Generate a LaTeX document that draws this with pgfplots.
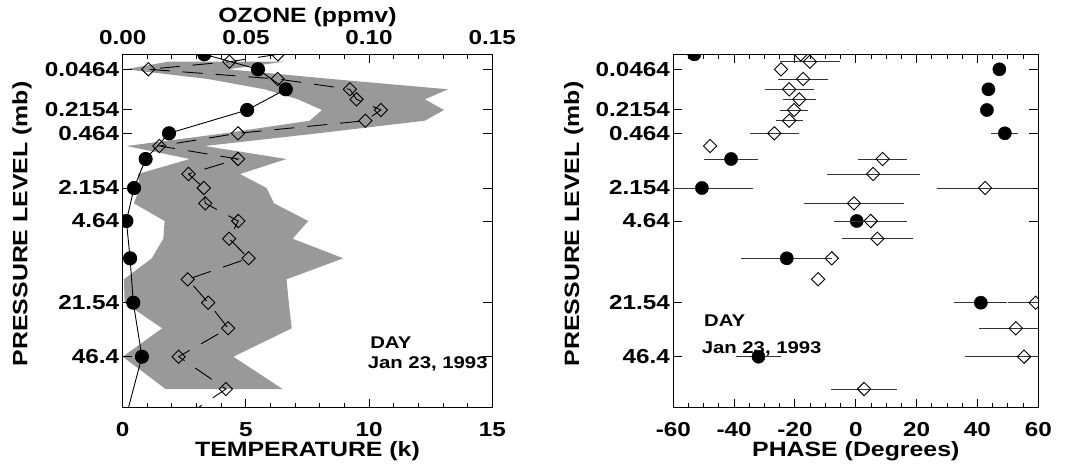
\documentclass[border=0pt]{standalone}
\usepackage{fontspec}
\setmainfont{Liberation Sans}[FakeStretch=1.2]
\usepackage{pgfplots}
\pgfplotsset{compat=1.18}
\usepackage{pgfplotstable}
\definecolor{band}{gray}{0.6}

% y values are the vertical positions of the UARS pressure levels on the chart
% (0.0215,0.0316,0.0464,0.068,0.1,...,46.4,68.1,100 mb)
\pgfplotstableread{
t y
3.31 54.3
5.49 69.3
6.62 89.3
5.05 110
1.88 133.3
0.93 159
0.46 188
0.15 221
0.30 258.3
0.43 302.7
0.78 356.7
0.08 422
}\tempamp

\pgfplotstableread{
o y
0.0630 54.3
0.0433 61.7
0.0104 69.3
0.0629 79
0.0922 89.3
0.0949 99.3
0.1048 110
0.0985 120.7
0.0468 133.3
0.0149 146
0.0468 159
0.0267 174
0.0329 188
0.0335 203.3
0.0469 221
0.0432 238.7
0.0511 258.3
0.0264 279.3
0.0347 302.7
0.0428 328.3
0.0227 356.7
0.0419 389
0.0220 422
}\ozamp

\pgfplotstableread{
o y
0.0184 61.7
0.0657 61.7
0.0427 69.3
0.0847 79
0.1320 89.3
0.1226 99.3
0.1304 110
0.1226 120.7
0.0793 133.3
0.0333 146
0.0665 159
0.0476 174
0.0584 188
0.0614 203.3
0.0753 221
0.0690 238.7
0.0895 258.3
0.0665 279.3
0.0674 302.7
0.0686 328.3
0.0449 356.7
0.0649 389
0.0174 389
0.0000 356.7
0.0160 328.3
0.0008 302.7
0.0005 279.3
0.0118 258.3
0.0165 238.7
0.0170 221
0.0045 203.3
0.0070 188
0.0062 174
0.0272 159
0.0015 146
0.0414 133.3
0.0759 120.7
0.0809 110
0.0711 99.3
0.0576 89.3
0.0346 79
0.0011 69.3
}\ozband

\pgfplotstableread{
p y e
-53.1 54.3 0
47.2 69.3 0
43.6 89.3 0
43.1 110 0
49.0 133.3 4.4
-41.0 159 8.8
-50.6 188 16.9
0.3 221 6
-22.7 258.3 15
41.1 302.7 8.7
-32.0 356.7 7.4
}\phcirc

\pgfplotstableread{
p y e
-18.1 54.3 0
-15.1 61.7 9.9
-24.6 69.3 0
-17.3 79 8.3
-21.9 89.3 8.1
-18.6 99.3 5.4
-20.3 110 4.6
-21.9 120.7 4.5
-26.8 133.3 8
-47.9 146 0
8.8 159 8.1
5.7 174 15.3
42.5 188 15.7
-0.6 203.3 16.4
4.9 221 12
7.1 238.7 11.6
-7.9 258.3 0
-12.4 279.3 0
59.1 302.7 9
52.6 328.3 12
55.3 356.7 19.4
2.7 389 10.8
}\phdiam

\pgfplotsset{
  every tick label/.append style={font=\fontsize{20.3}{23}\selectfont\bfseries},
  label style={font=\fontsize{20.8}{23}\selectfont\bfseries},
  common/.style={
    scale only axis, height=353.4bp,
    y dir=reverse, ymin=54.3, ymax=407.7,
    axis line style={line width=1.2bp},
    every tick/.style={line width=1bp, black},
    major tick length=9bp, minor tick length=5bp,
    tick align=inside,
    clip marker paths=true,
  },
  ylev/.style={
    ytick={69.3,110,133.3,188,221,302.7,356.7},
    yticklabels={0.0464,0.2154,0.464,2.154,4.64,21.54,46.4},
    ytick pos=both, yticklabel pos=left,
    ylabel={PRESSURE LEVEL (mb)},
    ylabel style={at={(axis description cs:-0.258,0.52)}, anchor=base, rotate=0},
  },
}

\begin{document}
\begin{tikzpicture}
\useasboundingbox (0,0) rectangle (1067bp,471bp);

% ---------- left panel: ozone (top axis)
\begin{axis}[common, width=369.6bp, at={(122.7bp,63.3bp)}, anchor=south west,
  xmin=0, xmax=0.15, xtick={0,0.05,0.1,0.15}, xticklabels={0.00,0.05,0.10,0.15},
  minor x tick num=4, xtick pos=right, xticklabel pos=right,
  xticklabel style={yshift=6bp},
  ytick=\empty,
  xlabel={OZONE (ppmv)},
  xlabel style={at={(axis description cs:0.5,1.09)}, anchor=base},
]
\addplot[fill=band, draw=none] table[x=o, y=y] {\ozband};
\addplot[black, line width=0.9bp, dash pattern=on 20bp off 13bp,
  mark=square, mark size=4.7bp, mark options={solid, rotate=45, fill=none, line width=0.9bp}]
  table[x=o, y=y] {\ozamp};
\end{axis}

% ---------- left panel: temperature (bottom axis)
\begin{axis}[common, ylev, width=369.6bp, at={(122.7bp,63.3bp)}, anchor=south west,
  xmin=0, xmax=15, xtick={0,5,10,15}, xticklabels={0,5,10,15}, minor x tick num=4,
  xtick pos=left, xticklabel pos=left,
  xticklabel style={yshift=-11bp},
  xlabel={TEMPERATURE (k)},
  xlabel style={at={(axis description cs:0.5,-0.138)}, anchor=base},
]
\addplot[black, line width=0.9bp, mark=*, mark size=6.6bp] table[x=t, y=y] {\tempamp};
\node[anchor=base west, font=\fontsize{17}{20}\selectfont\bfseries, inner sep=0pt] at (axis cs:10.04,348.3) {DAY};
\node[anchor=base west, font=\fontsize{17}{20}\selectfont\bfseries, inner sep=0pt] at (axis cs:9.94,368.3) {Jan 23, 1993};
\end{axis}

% ---------- right panel: phase
\begin{axis}[common, ylev, width=365bp, at={(673.3bp,63.3bp)}, anchor=south west,
  xmin=-60, xmax=60, xtick={-60,-40,-20,0,20,40,60},
  xticklabels={-60,-40,-20,0,20,40,60}, minor x tick num=3,
  xtick pos=both, xticklabel pos=left,
  xticklabel style={yshift=-11bp},
  xlabel={PHASE (Degrees)},
  xlabel style={at={(axis description cs:0.5,-0.138)}, anchor=base},
]
\addplot[black, only marks, mark=*, mark size=6.6bp,
  error bars/.cd, x dir=both, x explicit, error mark=none,
  error bar style={line width=0.9bp, black!80}]
  table[x=p, y=y, x error=e] {\phcirc};
\addplot[black, only marks, mark=square, mark size=4.7bp,
  mark options={rotate=45, fill=white, line width=0.9bp},
  error bars/.cd, x dir=both, x explicit, error mark=none,
  error bar style={line width=0.9bp, black!80}]
  table[x=p, y=y, x error=e] {\phdiam};
\node[anchor=base west, font=\fontsize{17}{20}\selectfont\bfseries, inner sep=0pt] at (axis cs:-49.9,326) {DAY};
\node[anchor=base west, font=\fontsize{17}{20}\selectfont\bfseries, inner sep=0pt] at (axis cs:-50.7,353.3) {Jan 23, 1993};
\end{axis}
\end{tikzpicture}
\end{document}
